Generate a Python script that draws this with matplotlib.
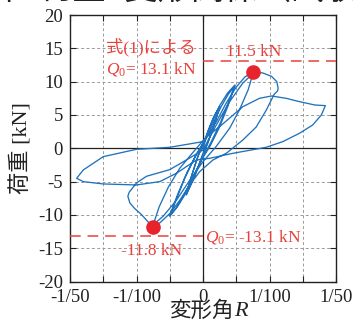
import matplotlib
matplotlib.use("Agg")
import matplotlib.pyplot as plt

plt.rcParams['axes.unicode_minus'] = False
plt.rcParams['mathtext.fontset'] = 'custom'
plt.rcParams['mathtext.rm'] = 'Liberation Serif'
plt.rcParams['mathtext.it'] = 'Liberation Serif:italic'

SERIF = ['Liberation Serif', 'Noto Sans CJK JP']

# ---- data: hysteresis loop (drift angle R [rad], load Q [kN]) ----
R = [0, 0.0008, 0.0016, 0.0025, 0.0019, 0.0010, 0.0002,
     -0.0008, -0.0016, -0.0025, -0.0018, -0.0009, 0.0000,
     0.0009, 0.0017, 0.0025, 0.0018, 0.0008, -0.0001,
     -0.0009, -0.0017, -0.0025, -0.0017, -0.0007, 0.0002,
     0.0012, 0.0025, 0.0037, 0.0048, 0.0038, 0.0026, 0.0012, 0.0000,
     -0.0012, -0.0025, -0.0038, -0.0050, -0.0040, -0.0027, -0.0013, 0.0000,
     0.0013, 0.0027, 0.0038, 0.0048, 0.0037, 0.0024, 0.0010, -0.0003,
     -0.0015, -0.0028, -0.0040, -0.0050, -0.0038, -0.0024, -0.0010, 0.0003,
     0.0020, 0.0035, 0.0050, 0.0063, 0.0075, 0.0090, 0.0103, 0.0111, 0.0113,
     0.0112, 0.0107, 0.0095, 0.0080, 0.0060, 0.0035, 0.0015,
     -0.0005, -0.0020, -0.0035, -0.0050, -0.0065, -0.0075, -0.0083, -0.0092,
     -0.0103, -0.0110, -0.0113, -0.0111, -0.0100, -0.0085, -0.0050, -0.0025, 0.0000,
     0.0020, 0.0040, 0.0060, 0.0075, 0.0068, 0.0055, 0.0040, 0.0020, 0.0000,
     -0.0020, -0.0040, -0.0060, -0.0075, -0.0066, -0.0052, -0.0035, -0.0015, 0.0003,
     0.0025, 0.0060, 0.0085, 0.0103, 0.0125, 0.0145, 0.0168, 0.0184,
     0.0178, 0.0165, 0.0145, 0.0120, 0.0095, 0.0045, 0.0010,
     -0.0010, -0.0040, -0.0065, -0.0100, -0.0150, -0.0180, -0.0190,
     -0.0180, -0.0150, -0.0100, -0.0050, 0.0000]
Q = [0, 2.6, 4.6, 6.2, 4.2, 1.6, -0.6,
     -3.0, -5.0, -6.8, -4.4, -1.6, 0.6,
     3.0, 4.9, 6.3, 3.9, 1.0, -1.0,
     -3.3, -5.2, -7.0, -4.1, -1.0, 1.0,
     3.6, 6.4, 8.3, 9.5, 6.8, 3.8, 0.9, -1.3,
     -3.9, -6.6, -8.7, -10.2, -7.6, -4.4, -1.5, 0.8,
     3.3, 6.2, 8.1, 9.4, 6.2, 3.0, 0.2, -1.8,
     -4.3, -6.9, -8.9, -10.1, -6.9, -3.6, -0.9, 1.2,
     4.0, 6.8, 9.2, 10.7, 11.5, 11.3, 10.8, 10.0, 9.0,
     8.6, 8.1, 5.7, 3.2, 1.25, -0.75, -1.75,
     -3.5, -5.5, -7.8, -9.8, -11.2, -11.7, -11.0, -10.0,
     -9.0, -8.2, -7.2, -6.6, -5.2, -4.2, -3.2, -1.75, -0.25,
     3.5, 7.0, 9.8, 11.2, 8.8, 5.8, 3.0, 0.3, -2.0,
     -4.8, -7.8, -10.2, -11.5, -8.8, -5.8, -3.0, -0.6, 1.5,
     3.25, 6.25, 7.5, 7.85, 7.5, 7.0, 6.5, 6.4,
     5.0, 3.5, 2.25, 1.0, 0.15, -0.75, -1.5,
     -1.75, -3.75, -5.0, -5.5, -5.35, -5.0, -4.5,
     -3.25, -1.25, -0.15, 0.15, 1.0]

peak_R = [0.0075, -0.0075]
peak_Q = [11.5, -11.8]
Q0 = 13.1

xticks = [-0.02, -0.015, -0.01, -0.005, 0, 0.005, 0.01, 0.015, 0.02]
xlabels = ['-1/50', '', '-1/100', '', '0', '', '1/100', '', '1/50']
yticks = [-20, -15, -10, -5, 0, 5, 10, 15, 20]
ylabels = ['-20', '-15', '-10', '-5', '0', '5', '10', '15', '20']

fig = plt.figure(figsize=(3.53, 3.31), dpi=100)
ax = fig.add_axes([70/353, 1-281.6/331, 266/353, 266.6/331])

ax.set_xlim(-0.02, 0.02)
ax.set_ylim(-20, 20)
ax.set_xticks(xticks)
ax.set_xticklabels(xlabels)
ax.set_yticks(yticks)
ax.set_yticklabels(ylabels)
ax.grid(True, color='#9a9a9a', linestyle=(0, (3, 2.5)), linewidth=0.7)
ax.set_axisbelow(True)
ax.axhline(0, color='#222222', linewidth=0.9, zorder=1.5)
ax.axvline(0, color='#222222', linewidth=0.9, zorder=1.5)
ax.tick_params(direction='in', length=4, width=0.8, top=True, right=True,
               labelsize=13.5, pad=5, colors='#222222')
for lab in ax.get_xticklabels() + ax.get_yticklabels():
    lab.set_family(SERIF)
    lab.set_color('#222222')
for s in ax.spines.values():
    s.set_linewidth(1.0)
    s.set_color('#222222')

ax.plot(R, Q, color='#1f72bd', linewidth=0.95, zorder=3)

red = '#e8413c'
ax.plot([0, 0.02], [Q0, Q0], color=red, linestyle=(0, (7, 4.5)), linewidth=1.1, zorder=4)
ax.plot([-0.02, 0], [-Q0, -Q0], color=red, linestyle=(0, (7, 4.5)), linewidth=1.1, zorder=4)
ax.plot(peak_R, peak_Q, 'o', color='#e8232b', markersize=9.5, zorder=5)

ax.text(-0.0078, 15.2, '式(1)による', color=red, fontsize=12.5, family=SERIF,
        ha='center', va='center')
ax.text(-0.0078, 11.85, r'$Q_{\mathit{0}}$= 13.1 kN', color=red, fontsize=12.5,
        family=SERIF, ha='center', va='center')
ax.text(0.0076, 14.5, '11.5 kN', color=red, fontsize=12.5, family=SERIF,
        ha='center', va='center')
ax.text(-0.0078, -15.4, '-11.8 kN', color=red, fontsize=12.5, family=SERIF,
        ha='center', va='center')
ax.text(0.0075, -13.3, r'$Q_{\mathit{0}}$= -13.1 kN', color=red, fontsize=12.5,
        family=SERIF, ha='center', va='center')

ax.set_ylabel('荷重 [kN]', family=SERIF, fontsize=16, color='#222222', labelpad=4)

# x label: CJK part + italic R, drawn as two pieces
fig.text(234/353, 1-311/331, '変形角', family='Noto Sans CJK JP', fontsize=15.5,
         color='#222222', ha='right', va='center')
fig.text(234/353, 1-311/331, 'R', family='Liberation Serif', style='italic',
         fontsize=16, color='#222222', ha='left', va='center')

# cropped caption at the very top
ty = 1 + 1/331
fig.text(-4/353, ty, '図', fontsize=24, family='Noto Sans CJK JP',
         ha='center', va='baseline', color='#222222')
fig.text(25/353, ty, '3', fontsize=24, family='Noto Sans CJK JP',
         ha='center', va='baseline', color='#222222')
fig.text(39/353, ty, '荷重−変形関係（試験体', fontsize=24,
         family='Noto Sans CJK JP', ha='left', va='baseline', color='#222222')

fig.savefig('out.png', dpi=100)
